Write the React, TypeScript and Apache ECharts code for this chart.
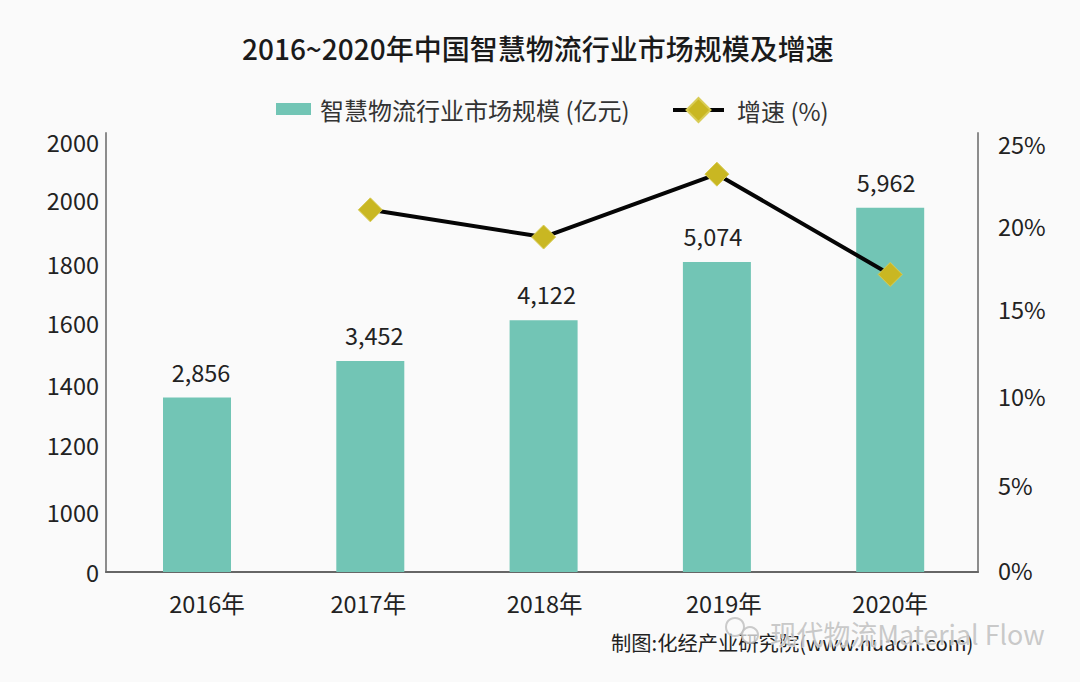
import React, { useEffect, useRef } from "react";
import * as echarts from "echarts";

const categories = ["2016年", "2017年", "2018年", "2019年", "2020年"];
const marketSize = [2856, 3452, 4122, 5074, 5962];
const growth = [null, 21.3, 19.7, 23.4, 17.5];
const title = "2016~2020年中国智慧物流行业市场规模及增速";
const barName = "智慧物流行业市场规模 (亿元)";
const lineName = "增速 (%)";
const source = "制图:化经产业研究院(www.huaon.com)";
const watermark = "现代物流Material Flow";

// The reference's printed left and right scales are not evenly spaced
const leftTickValues = [0, 982, 2078, 3060, 4074, 5041, 6088, 7037];
const leftTickLabels = ["0", "1000", "1200", "1400", "1600", "1800", "2000", "2000"];
const rightTickValues = [0.12, 5.12, 10.36, 15.47, 20.37, 25.18];
const rightTickLabels = ["0%", "5%", "10%", "15%", "20%", "25%"];

// Hand placement seen in the reference: horizontal nudges of labels off their bars
const yearLabelShift = [10, -2, 1, 7, 0];
const valueLabelShift = [4, 4, 3, -4, -4];

const FONT = "'Noto Sans CJK SC', 'Noto Sans', sans-serif";
const INK = "#222222";

export default function App() {
  const ref = useRef<HTMLDivElement>(null);
  useEffect(() => {
    document.body.style.margin = "0";
    const chart = echarts.init(ref.current!, null, { renderer: "svg" });
    chart.setOption({
      animation: false,
      backgroundColor: "#fafafa",
      textStyle: { fontFamily: FONT },
      title: {
        text: title,
        left: 242,
        top: 28,
        padding: 0,
        textStyle: { fontSize: 28, fontWeight: 500, color: "#1a1a1a", fontFamily: FONT, lineHeight: 40 },
      },
      legend: [
        {
          data: [{ name: barName, icon: "rect" }],
          left: 276,
          top: 97,
          padding: 0,
          itemWidth: 35,
          itemHeight: 12,
          itemGap: 0,
          textStyle: { fontSize: 24, color: "#333333", fontFamily: FONT, padding: [0, 0, 0, 4] },
        },
        {
          data: [lineName],
          left: 671,
          top: 97,
          padding: 0,
          itemWidth: 51,
          itemHeight: 30,
          itemGap: 0,
          lineStyle: { width: 4 },
          textStyle: { fontSize: 24, color: "#333333", fontFamily: FONT, padding: [0, 0, 0, 8] },
        },
      ],
      grid: [
        { left: 110.35, right: 103.15, top: 133, bottom: 110 },
        { left: 106, right: 102, top: 133, bottom: 110 },
      ],
      xAxis: [
        {
          type: "category",
          gridIndex: 0,
          data: categories.map((c, i) => ({
            value: c,
            textStyle: { padding: [0, Math.max(0, -2 * yearLabelShift[i]), 0, Math.max(0, 2 * yearLabelShift[i])] },
          })),
          axisTick: { show: false },
          axisLine: { show: false },
          axisLabel: { fontSize: 23.5, color: INK, fontFamily: FONT, margin: 19, interval: 0 },
        },
        {
          type: "value",
          gridIndex: 1,
          min: 0,
          max: 1,
          position: "bottom",
          splitLine: { show: false },
          axisTick: { show: false },
          axisLabel: { show: false },
          axisLine: { show: true, lineStyle: { color: "#666666", width: 2 } },
        },
      ],
      yAxis: [
        {
          type: "value",
          gridIndex: 0,
          min: 0,
          max: 7185,
          offset: 4.35,
          splitLine: { show: false },
          axisTick: { show: false },
          axisLine: { show: true, lineStyle: { color: "#8c8c8c", width: 2 } },
          axisLabel: {
            customValues: leftTickValues,
            margin: 7,
            fontSize: 23.5,
            color: INK,
            fontFamily: FONT,
            formatter: (v: number) => leftTickLabels[leftTickValues.indexOf(v)],
          },
        },
        {
          type: "value",
          gridIndex: 0,
          min: 0,
          max: 25.82,
          position: "right",
          offset: 1.15,
          splitLine: { show: false },
          axisTick: { show: false },
          axisLine: { show: true, lineStyle: { color: "#8c8c8c", width: 2 } },
          axisLabel: {
            customValues: rightTickValues,
            margin: 20,
            fontSize: 23.5,
            color: INK,
            fontFamily: FONT,
            formatter: (v: number) => rightTickLabels[rightTickValues.indexOf(v)],
          },
        },
        {
          type: "value",
          gridIndex: 1,
          min: 0,
          max: 1,
          show: false,
        },
      ],
      series: [
        {
          name: barName,
          type: "bar",
          xAxisIndex: 0,
          yAxisIndex: 0,
          barWidth: 68,
          data: marketSize.map((v, i) => ({ value: v, label: { offset: [valueLabelShift[i], 0] } })),
          itemStyle: { color: "#72c5b5" },
          label: {
            show: true,
            position: "top",
            distance: 14,
            fontSize: 23.5,
            color: INK,
            fontFamily: FONT,
            formatter: (p: any) => Number(p.value).toLocaleString("en-US"),
          },
        },
        {
          name: lineName,
          type: "line",
          xAxisIndex: 0,
          yAxisIndex: 1,
          data: growth,
          symbol: "diamond",
          symbolSize: 24,
          lineStyle: { color: "#050505", width: 4 },
          itemStyle: { color: "#c9b722", borderColor: "#d8cc55", borderWidth: 1 },
          z: 5,
        },
      ],
      graphic: [
        {
          type: "text",
          x: 611,
          y: 632,
          z: 10,
          style: { text: source, fontSize: 20.3, fill: INK, fontFamily: FONT },
        },
        {
          type: "circle",
          shape: { cx: 735, cy: 627, r: 9 },
          z: 11,
          style: { fill: "none", stroke: "rgba(190,190,190,0.8)", lineWidth: 2 },
        },
        {
          type: "circle",
          shape: { cx: 750, cy: 635, r: 8 },
          z: 11,
          style: { fill: "rgba(250,250,250,0.7)", stroke: "rgba(190,190,190,0.8)", lineWidth: 2 },
        },
        {
          type: "text",
          x: 770,
          y: 620,
          z: 11,
          style: {
            text: watermark,
            fontSize: 26.8,
            fontFamily: FONT,
            fill: "rgba(195,195,195,0.9)",
            stroke: "rgba(250,250,250,0.8)",
            lineWidth: 1,
          },
        },
      ],
    });
    return () => chart.dispose();
  }, []);
  return <div ref={ref} style={{ width: 1080, height: 682 }} />;
}
